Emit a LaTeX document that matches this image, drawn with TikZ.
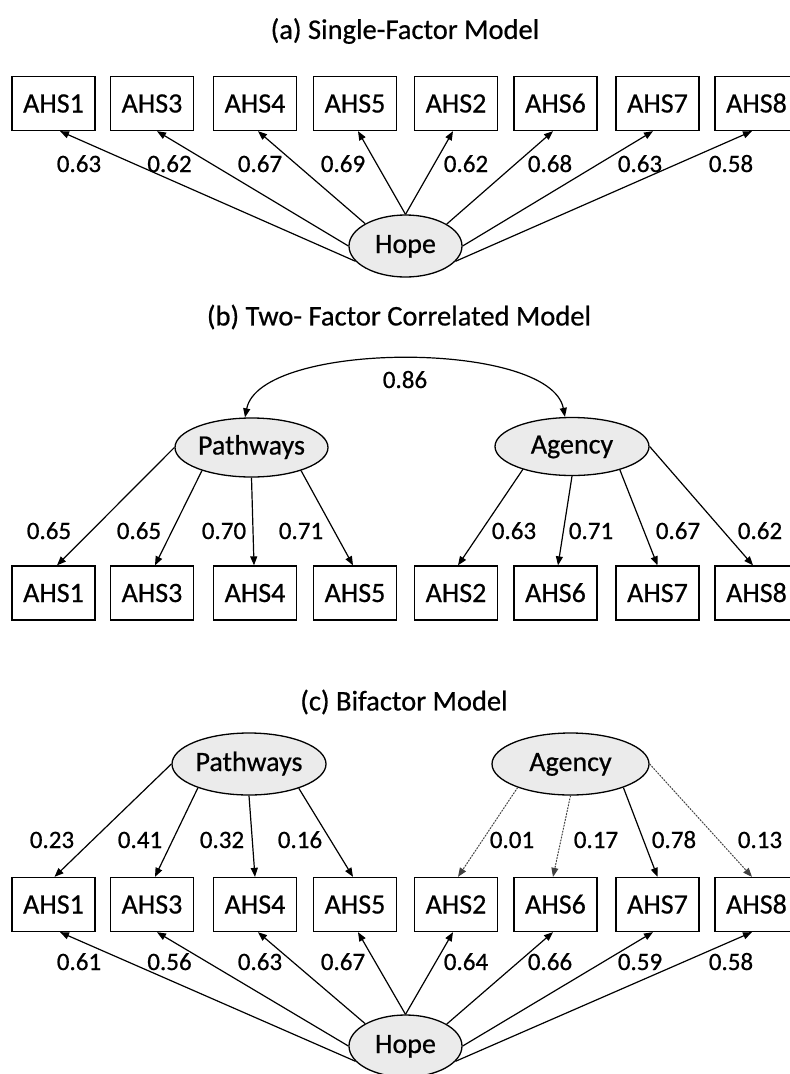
\documentclass[tikz,border=0pt]{standalone}
\usepackage{fontspec}
\setmainfont{Carlito}[Numbers=Lining,FakeBold=0.6]
\usetikzlibrary{arrows.meta,shapes.geometric}
\begin{document}
\begin{tikzpicture}[x=1pt,y=-1pt,
 box/.style={draw,line width=1.3pt,minimum width=83pt,minimum height=54pt,inner sep=0pt,text height=18pt,text depth=0pt,font=\fontsize{28}{30}\selectfont},
 lat/.style={draw,ellipse,fill=black!8,line width=1.3pt,inner sep=0pt,text height=20pt,text depth=6pt,font=\fontsize{28}{30}\selectfont},
 ld/.style={-{Triangle[length=9pt,width=7pt]},line width=1.2pt},
 weak/.style={ld,dash pattern=on 1.6pt off 1.4pt,line width=1pt,draw=black!75,fill=black!75},
 num/.style={font=\fontsize{25}{27}\selectfont,inner sep=0pt,text height=16pt,text depth=0pt},
 ttl/.style={font=\fontsize{28.5}{30}\selectfont,inner sep=0pt}]
\useasboundingbox (0,0) rectangle (790,1074);

% ---------------- (a) ----------------
\node[ttl] (ta) at (405,31) {(a) Single-Factor Model};
\node[box] (a1) at (53.5,103.5) {AHS1};
\node[box] (a3) at (152,103.5) {AHS3};
\node[box] (a4) at (255,103.5) {AHS4};
\node[box] (a5) at (355,103.5) {AHS5};
\node[box] (a2) at (456,103.5) {AHS2};
\node[box] (a6) at (555.5,103.5) {AHS6};
\node[box] (a7) at (657.5,103.5) {AHS7};
\node[box] (a8) at (756.5,103.5) {AHS8};
\node[lat,minimum width=113pt,minimum height=62pt] (ha) at (405.5,246) {Hope};
\draw[ld] (ha.197) -- ([xshift=6.5pt]a1.south);
\draw[ld] (ha.180) -- ([xshift=5pt]a3.south);
\draw[ld] (ha.151.6) -- ([xshift=3pt]a4.south);
\draw[ld] (ha.90) -- ([xshift=3pt]a5.south);
\draw[ld] (ha.90) -- ([xshift=-3pt]a2.south);
\draw[ld] (ha.28.4) -- ([xshift=-2.5pt]a6.south);
\draw[ld] (ha.0) -- ([xshift=-4.5pt]a7.south);
\draw[ld] (ha.-17) -- ([xshift=-4.5pt]a8.south);
\node[num] (la1) at (79,164) {0.63};
\node[num] (la3) at (169.5,164) {0.62};
\node[num] (la4) at (260,164) {0.67};
\node[num] (la5) at (343,164) {0.69};
\node[num] (la2) at (466,164) {0.62};
\node[num] (la6) at (550,164) {0.68};
\node[num] (la7) at (640,164) {0.63};
\node[num] (la8) at (731,164) {0.58};

% ---------------- (b) ----------------
\node[ttl] (tb) at (399,317) {(b) Two- Factor Correlated Model};
\node[lat,minimum width=153pt,minimum height=59pt] (pb) at (251.5,447.5) {Pathways};
\node[lat,minimum width=154pt,minimum height=58pt] (gb) at (572,446.5) {Agency};
\draw[{Triangle[length=9pt,width=7pt]}-{Triangle[length=9pt,width=7pt]},line width=1.2pt]
  ([xshift=-6.5pt]pb.north) .. controls +(15,-77) and +(-15,-77) .. ([xshift=-7pt]gb.north);
\node[num] (lr) at (405,380) {0.86};
\node[box] (b1) at (53.5,593) {AHS1};
\node[box] (b3) at (152,593) {AHS3};
\node[box] (b4) at (255,593) {AHS4};
\node[box] (b5) at (355,593) {AHS5};
\node[box] (b2) at (456,593) {AHS2};
\node[box] (b6) at (555.5,593) {AHS6};
\node[box] (b7) at (657.5,593) {AHS7};
\node[box] (b8) at (756.5,593) {AHS8};
\draw[ld] (pb.180) -- ([xshift=3.5pt]b1.north);
\draw[ld] (pb.205) -- ([xshift=3pt]b3.north);
\draw[ld] (pb.270) -- ([xshift=-1pt]b4.north);
\draw[ld] (pb.335) -- ([xshift=-2pt]b5.north);
\draw[ld] (gb.205.7) -- ([xshift=2pt]b2.north);
\draw[ld] (gb.270) -- ([xshift=2.5pt]b6.north);
\draw[ld] (gb.334) -- ([xshift=0pt]b7.north);
\draw[ld] (gb.0) -- ([xshift=-3.5pt]b8.north);
\node[num] (lb1) at (49,531) {0.65};
\node[num] (lb3) at (139,531) {0.65};
\node[num] (lb4) at (224,531) {0.70};
\node[num] (lb5) at (301,531) {0.71};
\node[num] (lb2) at (514,531) {0.63};
\node[num] (lb6) at (591,531) {0.71};
\node[num] (lb7) at (678,531) {0.67};
\node[num] (lb8) at (760,531) {0.62};

% ---------------- (c) ----------------
\node[ttl] (tc) at (404,702) {(c) Bifactor Model};
\node[lat,minimum width=154pt,minimum height=62pt] (pc) at (249,764) {Pathways};
\node[lat,minimum width=157pt,minimum height=62pt] (gc) at (570.5,764) {Agency};
\node[box] (c1) at (53.5,904.5) {AHS1};
\node[box] (c3) at (152,904.5) {AHS3};
\node[box] (c4) at (255,904.5) {AHS4};
\node[box] (c5) at (355,904.5) {AHS5};
\node[box] (c2) at (456,904.5) {AHS2};
\node[box] (c6) at (555.5,904.5) {AHS6};
\node[box] (c7) at (657.5,904.5) {AHS7};
\node[box] (c8) at (756.5,904.5) {AHS8};
\draw[ld] (pc.180) -- ([xshift=1pt]c1.north);
\draw[ld] (pc.205.7) -- ([xshift=3pt]c3.north);
\draw[ld] (pc.270) -- ([xshift=0pt]c4.north);
\draw[ld] (pc.334) -- ([xshift=-2pt]c5.north);
\draw[weak] (gc.204.6) -- ([xshift=2pt]c2.north);
\draw[weak] (gc.270) -- ([xshift=-2.5pt]c6.north);
\draw[ld] (gc.336) -- ([xshift=0pt]c7.north);
\draw[weak] (gc.0) -- ([xshift=-4.5pt]c8.north);
\node[num] (lc1) at (52,840) {0.23};
\node[num] (lc3) at (140,840) {0.41};
\node[num] (lc4) at (222,840) {0.32};
\node[num] (lc5) at (300,840) {0.16};
\node[num] (lc2) at (512,840) {0.01};
\node[num] (lc6) at (596,840) {0.17};
\node[num] (lc7) at (674,840) {0.78};
\node[num] (lc8) at (760,840) {0.13};
\node[lat,minimum width=113pt,minimum height=62pt] (hc) at (405.5,1046) {Hope};
\draw[ld] (hc.197) -- ([xshift=6.5pt]c1.south);
\draw[ld] (hc.180) -- ([xshift=5pt]c3.south);
\draw[ld] (hc.151.6) -- ([xshift=3pt]c4.south);
\draw[ld] (hc.90) -- ([xshift=3pt]c5.south);
\draw[ld] (hc.90) -- ([xshift=-3pt]c2.south);
\draw[ld] (hc.28.4) -- ([xshift=-2.5pt]c6.south);
\draw[ld] (hc.0) -- ([xshift=-4.5pt]c7.south);
\draw[ld] (hc.-17) -- ([xshift=-4.5pt]c8.south);
\node[num] (ld1) at (79,962) {0.61};
\node[num] (ld3) at (169.5,962) {0.56};
\node[num] (ld4) at (260,962) {0.63};
\node[num] (ld5) at (343,962) {0.67};
\node[num] (ld2) at (466,962) {0.64};
\node[num] (ld6) at (550,962) {0.66};
\node[num] (ld7) at (640,962) {0.59};
\node[num] (ld8) at (731,962) {0.58};
\end{tikzpicture}
\end{document}
